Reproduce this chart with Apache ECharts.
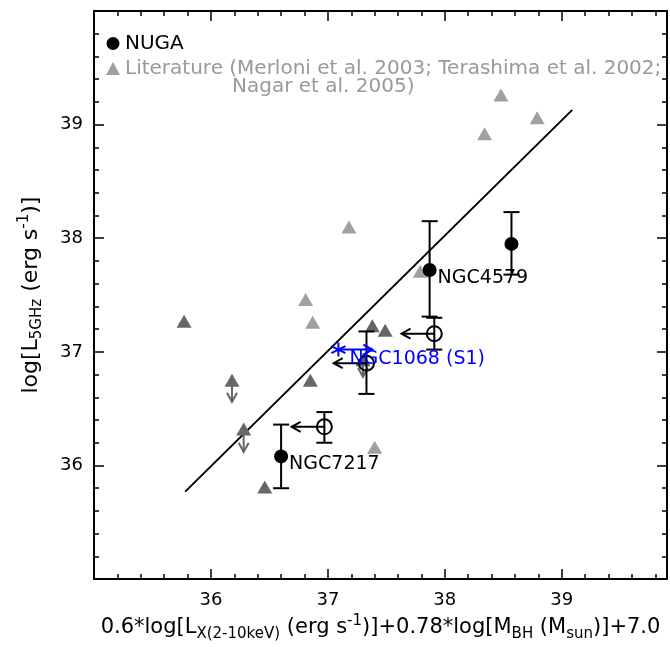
<!DOCTYPE html>
<html><head><meta charset="utf-8">
<script src="https://cdn.jsdelivr.net/npm/echarts@6/dist/echarts.min.js"></script>
<style>html,body{margin:0;padding:0;background:#fff}#c{width:670px;height:647px}</style>
</head><body><div id="c"></div>
<script>
// ---- tick labels ----
const xTickLabels = [36, 37, 38, 39];
const yTickLabels = [36, 37, 38, 39];

// ---- regression line ----
const fitX = [35.78, 39.09];
const fitY = [35.77, 39.13];

// ---- Literature (light gray triangles) ----
const litLightX = [36.81, 36.87, 37.18, 37.40, 37.79, 38.34, 38.48, 38.79];
const litLightY = [37.46, 37.26, 38.10, 36.16, 37.71, 38.92, 39.26, 39.06];

// ---- Literature (dark gray triangles) ----
const litDarkX = [35.77, 36.85, 37.38, 37.49, 36.46];
const litDarkY = [37.27, 36.75, 37.23, 37.19, 35.81];

// ---- Literature upper limits (dark gray triangles with down arrows) ----
const litLimX = [36.18, 36.28, 37.30];
const litLimY = [36.75, 36.32, 36.93];
const litLimTo = [36.56, 36.12, 36.78];

// ---- NUGA detections (filled circles) ----
const nugaNames = ['NGC4579', '', 'NGC7217'];
const nugaX = [37.87, 38.57, 36.60];
const nugaY = [37.72, 37.95, 36.08];
const nugaLo = [37.31, 37.68, 35.80];
const nugaHi = [38.15, 38.23, 36.36];

// ---- NUGA upper limits in x (open circles) ----
const openX = [37.91, 37.33, 36.97];
const openY = [37.16, 36.90, 36.34];
const openLo = [37.02, 36.63, 36.20];
const openHi = [37.30, 37.18, 36.47];
const openArrowTo = [37.63, 37.05, 36.69];

// ---- NGC1068 ----
const s1Name = 'NGC1068 (S1)';
const s1X = 37.09;
const s1Y = 37.02;
const s1ArrowTo = 37.38;

const LIGHT = '#a0a0a0', DARK = '#666666', BLUE = '#0000ff';
const FONT = 'DejaVu Sans';
const litName = 'Literature (Merloni et al. 2003; Terashima et al. 2002;';

function zip(a, b) { return a.map((v, i) => [v, b[i]]); }

function tickFmt(list) {
  return function (v) {
    const r = Math.round(v);
    return (Math.abs(v - r) < 1e-6 && list.indexOf(r) >= 0) ? String(r) : '';
  };
}

function arrowRender(color, width) {
  return function (params, api) {
    const p1 = api.coord([api.value(0), api.value(1)]);
    const p2 = api.coord([api.value(2), api.value(3)]);
    const dx = p2[0] - p1[0], dy = p2[1] - p1[1];
    const len = Math.hypot(dx, dy) || 1;
    const ux = dx / len, uy = dy / len;
    const h = 9, w = 5;
    const bx = p2[0] - ux * h, by = p2[1] - uy * h;
    return {
      type: 'group', children: [
        { type: 'line', shape: { x1: p1[0], y1: p1[1], x2: p2[0], y2: p2[1] }, style: { stroke: color, lineWidth: width } },
        { type: 'polyline', shape: { points: [[bx - uy * w, by + ux * w], [p2[0], p2[1]], [bx + uy * w, by - ux * w]] }, style: { stroke: color, lineWidth: width, fill: null } }
      ]
    };
  };
}

function errRender(params, api) {
  const x = api.value(0);
  const a = api.coord([x, api.value(1)]);
  const b = api.coord([x, api.value(2)]);
  const c = 8;
  const st = { stroke: '#000', lineWidth: 2 };
  return {
    type: 'group', children: [
      { type: 'line', shape: { x1: a[0], y1: a[1], x2: b[0], y2: b[1] }, style: st },
      { type: 'line', shape: { x1: a[0] - c, y1: a[1], x2: a[0] + c, y2: a[1] }, style: st },
      { type: 'line', shape: { x1: b[0] - c, y1: b[1], x2: b[0] + c, y2: b[1] }, style: st }
    ]
  };
}

function richSet(main, sub, lh) {
  return {
    m: { fontSize: main, fontFamily: FONT, color: '#000', lineHeight: lh, verticalAlign: 'middle' },
    s: { fontSize: sub, fontFamily: FONT, color: '#000', lineHeight: sub, verticalAlign: 'bottom' },
    p: { fontSize: sub, fontFamily: FONT, color: '#000', lineHeight: sub, verticalAlign: 'top' }
  };
}

const xName = '{m|0.6*log[L}{s|X(2-10keV)}{m| (erg s}{p|-1}{m|)]+0.78*log[M}{s|BH}{m| (M}{s|sun}{m|)]+7.0}';
const yName = '{m|log[L}{s|5GHz}{m| (erg s}{p|-1}{m|)]}';

const XMIN = 35, XMAX = 39.9, YMIN = 35, YMAX = 40;
const lineW = 2;

function xAx(pos, interval, len, showLine, showLabel) {
  return {
    type: 'value', position: pos, min: XMIN, max: XMAX, interval: interval,
    axisLine: { show: showLine, onZero: false, lineStyle: { color: '#000', width: lineW } },
    axisTick: { show: true, inside: true, length: len, lineStyle: { color: '#000', width: 1.5 } },
    axisLabel: showLabel ? { show: true, formatter: tickFmt(xTickLabels), fontSize: 18, fontFamily: FONT, color: '#000', margin: 12 } : { show: false },
    splitLine: { show: false }
  };
}
function yAx(pos, interval, len, showLine, showLabel) {
  return {
    type: 'value', position: pos, min: YMIN, max: YMAX, interval: interval,
    axisLine: { show: showLine, onZero: false, lineStyle: { color: '#000', width: lineW } },
    axisTick: { show: true, inside: true, length: len, lineStyle: { color: '#000', width: 1.5 } },
    axisLabel: showLabel ? { show: true, formatter: tickFmt(yTickLabels), fontSize: 18, fontFamily: FONT, color: '#000', margin: 11 } : { show: false },
    splitLine: { show: false }
  };
}

const xMain = xAx('bottom', 1, 10, true, true);
xMain.name = xName;
xMain.nameLocation = 'middle';
xMain.nameGap = 29;
xMain.nameTextStyle = { rich: richSet(21, 15, 28) };
const yMain = yAx('left', 1, 10, true, true);
yMain.name = yName;
yMain.nameLocation = 'middle';
yMain.nameGap = 49;
yMain.nameRotate = 90;
yMain.nameTextStyle = { rich: richSet(22, 15, 28) };

const chart = echarts.init(document.getElementById('c'), null, { renderer: 'canvas' });
chart.setOption({
  animation: false,
  backgroundColor: '#fff',
  grid: { left: 94, right: 3, top: 11, bottom: 54, containLabel: false },
  xAxis: [xMain, xAx('bottom', 0.2, 5, false, false), xAx('top', 1, 10, true, false), xAx('top', 0.2, 5, false, false)],
  yAxis: [yMain, yAx('left', 0.2, 5, false, false), yAx('right', 1, 10, true, false), yAx('right', 0.2, 5, false, false)],
  legend: {
    orient: 'vertical', left: 101, top: 28, itemWidth: 14, itemHeight: 13, itemGap: 4,
    textStyle: { fontFamily: FONT, fontSize: 20, lineHeight: 21 },
    data: [
      { name: 'NUGA', icon: 'circle', itemStyle: { color: '#000', opacity: 1 }, textStyle: { color: '#000' } },
      { name: litName, icon: 'triangle', itemStyle: { color: LIGHT, opacity: 1 }, textStyle: { color: '#999' } }
    ],
    selectedMode: false
  },
  graphic: [{
    type: 'text', left: 232, top: 77,
    style: { text: 'Nagar et al. 2005)', fontFamily: FONT, fontSize: 20, fill: '#999' }
  }],
  series: [
    {
      type: 'line', name: 'fit', data: zip(fitX, fitY), showSymbol: false, symbol: 'none',
      lineStyle: { color: '#000', width: 2 }, z: 2
    },
    {
      type: 'scatter', name: litName, data: zip(litLightX, litLightY), symbol: 'triangle', symbolSize: [15, 13],
      itemStyle: { color: LIGHT, opacity: 1 }, z: 3
    },
    {
      type: 'scatter', name: 'litDark', data: zip(litDarkX, litDarkY).concat(zip(litLimX, litLimY)), symbol: 'triangle', symbolSize: [15, 13],
      itemStyle: { color: DARK, opacity: 1 }, z: 3
    },
    {
      type: 'custom', name: 'litLimArrows', data: litLimX.map((x, i) => [x, litLimY[i], x, litLimTo[i]]),
      encode: { x: [0, 2], y: [1, 3] }, renderItem: arrowRender(DARK, 2), z: 4
    },
    {
      type: 'custom', name: 'openArrows', data: openX.map((x, i) => [x, openY[i], openArrowTo[i], openY[i]]),
      encode: { x: [0, 2], y: [1, 3] }, renderItem: arrowRender('#000', 2), z: 5
    },
    {
      type: 'custom', name: 'nugaErr', data: nugaX.map((x, i) => [x, nugaLo[i], nugaHi[i]]),
      encode: { x: 0, y: [1, 2] }, renderItem: errRender, z: 5
    },
    {
      type: 'custom', name: 'openErr', data: openX.map((x, i) => [x, openLo[i], openHi[i]]),
      encode: { x: 0, y: [1, 2] }, renderItem: errRender, z: 5
    },
    {
      type: 'scatter', name: 'NUGA', data: nugaX.map((x, i) => ({ name: nugaNames[i], value: [x, nugaY[i]] })),
      symbol: 'circle', symbolSize: 14, itemStyle: { color: '#000', opacity: 1 }, z: 6,
      label: {
        show: true, position: 'right', distance: 1, offset: [0, 8], formatter: p => p.name,
        fontFamily: FONT, fontSize: 19, color: '#000'
      }
    },
    {
      type: 'scatter', name: 'open', data: zip(openX, openY), symbol: 'circle', symbolSize: 15,
      itemStyle: { color: 'rgba(0,0,0,0)', borderColor: '#000', borderWidth: 2, opacity: 1 }, z: 6
    },
    {
      type: 'custom', name: 's1Arrow', data: [[s1X, s1Y, s1ArrowTo, s1Y]],
      encode: { x: [0, 2], y: [1, 3] }, renderItem: arrowRender(BLUE, 2), z: 7
    },
    {
      type: 'scatter', name: 's1', data: [{ name: s1Name, value: [s1X, s1Y] }],
      symbol: 'path://M0,-1L0,1M-0.866,-0.5L0.866,0.5M-0.866,0.5L0.866,-0.5', symbolSize: 14,
      itemStyle: { color: 'rgba(0,0,0,0)', borderColor: BLUE, borderWidth: 2, opacity: 1 }, z: 8,
      label: {
        show: true, position: 'right', distance: 3, offset: [0, 9], formatter: p => p.name,
        fontFamily: FONT, fontSize: 19, color: BLUE
      }
    }
  ]
});
</script>
</body></html>
